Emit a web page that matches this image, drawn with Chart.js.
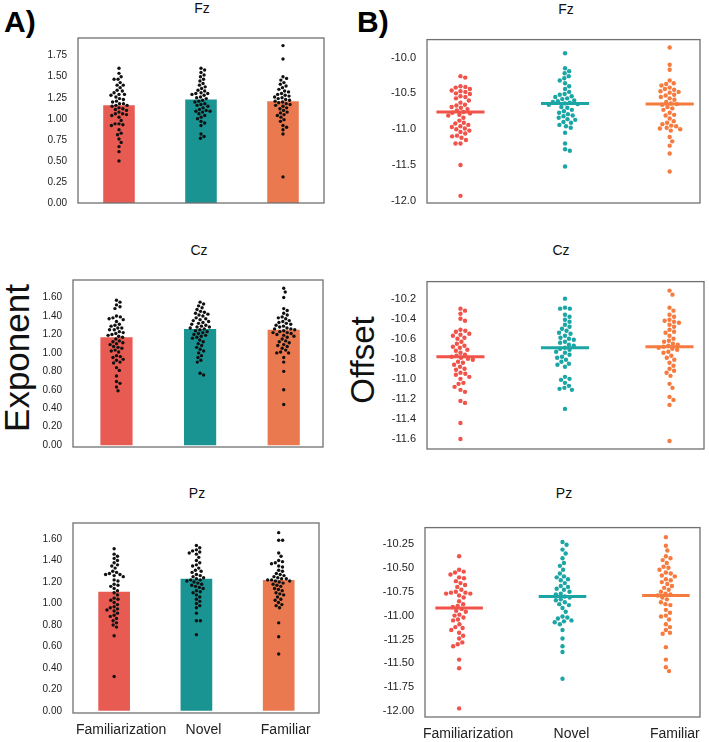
<!DOCTYPE html>
<html lang="en">
<head>
  <meta charset="UTF-8">
  <title>Exponent / Offset per electrode</title>
  <script src="https://cdn.jsdelivr.net/npm/chart.js"></script>
  <style>
    body { margin: 0; background: #fff; font-family: 'Liberation Sans', Arial, sans-serif; overflow: hidden; }
    #fig { position: relative; width: 709px; height: 742px; overflow: hidden; }
    canvas { position: absolute; }
    .txt { position: absolute; transform: translate(-50%, -50%); line-height: 1; white-space: nowrap; color: #111; }
    .title { font-size: 14px; }
    .big { font-size: 35px; transform: translate(-50%, -50%) rotate(-90deg); }
    .tag { position: absolute; font-size: 30px; font-weight: bold; line-height: 1; color: #000; }
  </style>
</head>
<body>
<div id="fig">
  <div class="tag" style="left:4px; top:7px">A)</div>
  <div class="tag" style="left:357px; top:7px">B)</div>
  <div class="txt big" style="left:16px; top:358px">Exponent</div>
  <div class="txt big" style="left:362px; top:360px; font-size:33px">Offset</div>

  <div class="txt title" style="left:202px; top:8px">Fz</div>
  <div class="txt title" style="left:566px; top:9px">Fz</div>
  <div class="txt title" style="left:199px; top:250px">Cz</div>
  <div class="txt title" style="left:561px; top:250px">Cz</div>
  <div class="txt title" style="left:197px; top:493px">Pz</div>
  <div class="txt title" style="left:564px; top:493px">Pz</div>

  <canvas id="p1" width="320" height="210" style="left:8px; top:21px"></canvas>
  <canvas id="p2" width="347" height="209" style="left:357px; top:22px"></canvas>
  <canvas id="p3" width="324" height="212" style="left:3px; top:263px"></canvas>
  <canvas id="p4" width="351" height="213" style="left:357px; top:264px"></canvas>
  <canvas id="p5" width="320" height="233" style="left:3px; top:506px"></canvas>
  <canvas id="p6" width="349" height="233" style="left:355px; top:510px"></canvas>
</div>

<script>
  const groups = ['Familiarization', 'Novel', 'Familiar'];

  // A) exponent: bar heights + individual subjects
  const fzExpBars = [1.16, 1.23, 1.21];
  const czExpBars = [1.17, 1.26, 1.25];
  const pzExpBars = [1.11, 1.23, 1.22];

  const fzExpFamiliarization = [1.60,1.54,1.50,1.47,1.47,1.43,1.40,1.40,1.37,1.34,1.33,1.31,1.29,1.29,1.28,1.26,1.24,1.23,1.21,1.20,1.18,1.18,1.16,1.16,1.15,1.13,1.12,1.11,1.10,1.08,1.06,1.06,1.05,1.04,1.02,0.98,0.94,0.94,0.93,0.92,0.87,0.83,0.81,0.76,0.72,0.67,0.61,0.50];
  const fzExpNovel = [1.60,1.58,1.55,1.52,1.50,1.47,1.45,1.42,1.40,1.38,1.36,1.34,1.33,1.31,1.30,1.30,1.29,1.28,1.26,1.25,1.24,1.22,1.21,1.20,1.18,1.17,1.16,1.15,1.13,1.11,1.10,1.09,1.09,1.08,1.06,1.04,1.02,1.00,0.97,0.95,0.92,0.82,0.79,0.77];
  const fzExpFamiliar = [1.87,1.71,1.50,1.48,1.46,1.43,1.41,1.39,1.37,1.35,1.33,1.32,1.30,1.29,1.28,1.27,1.26,1.25,1.24,1.23,1.22,1.21,1.20,1.19,1.18,1.17,1.16,1.15,1.13,1.12,1.10,1.08,1.07,1.05,1.04,1.02,0.99,0.97,0.92,0.90,0.87,0.82,0.31];

  const czExpFamiliarization = [1.57,1.55,1.52,1.50,1.48,1.40,1.39,1.38,1.37,1.36,1.34,1.31,1.30,1.29,1.27,1.27,1.25,1.25,1.23,1.22,1.21,1.20,1.19,1.18,1.17,1.15,1.13,1.12,1.11,1.10,1.09,1.07,1.06,1.05,1.03,1.02,1.01,0.97,0.96,0.95,0.93,0.92,0.90,0.89,0.84,0.81,0.75,0.69,0.67,0.63,0.59];
  const czExpNovel = [1.55,1.53,1.51,1.49,1.47,1.45,1.44,1.43,1.42,1.41,1.40,1.38,1.37,1.36,1.35,1.34,1.33,1.32,1.31,1.30,1.29,1.28,1.28,1.27,1.26,1.25,1.24,1.23,1.22,1.21,1.20,1.19,1.18,1.17,1.16,1.14,1.12,1.10,1.08,1.06,1.04,1.02,1.00,0.97,0.95,0.92,0.90,0.78,0.76];
  const czExpFamiliar = [1.70,1.66,1.60,1.48,1.46,1.43,1.41,1.39,1.38,1.37,1.35,1.34,1.33,1.32,1.31,1.30,1.29,1.28,1.27,1.26,1.26,1.25,1.24,1.23,1.22,1.22,1.21,1.20,1.19,1.18,1.17,1.15,1.13,1.12,1.11,1.09,1.08,1.07,1.05,1.03,1.01,1.00,1.00,0.95,0.90,0.80,0.60,0.44];

  const pzExpFamiliarization = [1.51,1.46,1.44,1.42,1.40,1.38,1.36,1.35,1.33,1.30,1.29,1.28,1.27,1.27,1.26,1.25,1.22,1.21,1.18,1.17,1.16,1.14,1.12,1.10,1.08,1.05,1.04,1.03,1.01,0.99,0.97,0.96,0.95,0.94,0.93,0.91,0.89,0.88,0.86,0.84,0.82,0.80,0.78,0.70,0.32];
  const pzExpNovel = [1.54,1.52,1.50,1.49,1.48,1.47,1.46,1.43,1.40,1.38,1.36,1.35,1.33,1.31,1.30,1.29,1.27,1.26,1.25,1.24,1.23,1.22,1.22,1.21,1.20,1.19,1.18,1.17,1.16,1.15,1.14,1.12,1.11,1.10,1.08,1.06,1.04,1.02,1.00,0.98,0.96,0.91,0.84,0.84,0.71];
  const pzExpFamiliar = [1.66,1.59,1.59,1.47,1.44,1.40,1.39,1.38,1.37,1.35,1.34,1.31,1.30,1.28,1.27,1.26,1.25,1.24,1.23,1.23,1.22,1.22,1.21,1.21,1.20,1.19,1.18,1.17,1.16,1.14,1.13,1.12,1.10,1.09,1.08,1.06,1.04,1.03,1.01,0.99,0.98,0.96,0.82,0.69,0.53];

  // B) offset: group medians + individual subjects
  const fzOffMedians = [-10.76, -10.64, -10.65];
  const czOffMedians = [-10.78, -10.69, -10.68];
  const pzOffMedians = [-10.92, -10.80, -10.79];

  const fzOffFamiliarization = [-10.26,-10.28,-10.40,-10.41,-10.42,-10.44,-10.46,-10.47,-10.48,-10.50,-10.51,-10.54,-10.55,-10.57,-10.60,-10.63,-10.66,-10.67,-10.69,-10.70,-10.72,-10.74,-10.76,-10.77,-10.78,-10.80,-10.81,-10.84,-10.88,-10.91,-10.92,-10.94,-10.96,-10.97,-10.99,-11.00,-11.02,-11.04,-11.06,-11.09,-11.10,-11.12,-11.15,-11.20,-11.20,-11.50,-11.93];
  const fzOffNovel = [-9.94,-10.15,-10.19,-10.22,-10.26,-10.29,-10.32,-10.36,-10.40,-10.44,-10.48,-10.51,-10.52,-10.54,-10.55,-10.57,-10.58,-10.60,-10.61,-10.62,-10.63,-10.64,-10.65,-10.66,-10.69,-10.70,-10.73,-10.75,-10.77,-10.79,-10.81,-10.82,-10.84,-10.86,-10.87,-10.90,-10.91,-10.94,-10.96,-10.98,-11.05,-11.20,-11.28,-11.30,-11.52];
  const fzOffFamiliar = [-9.86,-10.10,-10.17,-10.32,-10.36,-10.37,-10.39,-10.42,-10.44,-10.45,-10.47,-10.48,-10.49,-10.52,-10.53,-10.55,-10.57,-10.59,-10.62,-10.64,-10.65,-10.66,-10.69,-10.71,-10.73,-10.77,-10.80,-10.81,-10.85,-10.89,-10.91,-10.93,-10.95,-10.96,-10.98,-10.99,-11.00,-11.02,-11.11,-11.17,-11.23,-11.34,-11.59];

  const czOffFamiliarization = [-10.30,-10.32,-10.35,-10.40,-10.42,-10.51,-10.52,-10.53,-10.55,-10.56,-10.57,-10.59,-10.60,-10.63,-10.65,-10.67,-10.68,-10.69,-10.71,-10.72,-10.74,-10.76,-10.77,-10.78,-10.79,-10.80,-10.81,-10.83,-10.84,-10.86,-10.88,-10.90,-10.91,-10.94,-10.95,-10.96,-10.98,-11.00,-11.04,-11.05,-11.08,-11.11,-11.13,-11.22,-11.24,-11.44,-11.60];
  const czOffNovel = [-10.20,-10.29,-10.30,-10.30,-10.36,-10.38,-10.41,-10.43,-10.46,-10.48,-10.50,-10.52,-10.54,-10.55,-10.57,-10.59,-10.60,-10.61,-10.63,-10.64,-10.66,-10.67,-10.69,-10.70,-10.71,-10.73,-10.74,-10.76,-10.78,-10.79,-10.81,-10.83,-10.85,-10.86,-10.88,-10.98,-11.00,-11.01,-11.04,-11.07,-11.09,-11.10,-11.11,-11.30];
  const czOffFamiliar = [-10.12,-10.16,-10.29,-10.32,-10.36,-10.38,-10.41,-10.42,-10.43,-10.44,-10.46,-10.48,-10.51,-10.53,-10.54,-10.57,-10.60,-10.62,-10.63,-10.65,-10.66,-10.67,-10.68,-10.69,-10.70,-10.71,-10.73,-10.74,-10.77,-10.79,-10.81,-10.84,-10.87,-10.90,-10.92,-10.94,-10.97,-11.05,-11.09,-11.18,-11.21,-11.26,-11.62];

  const pzOffFamiliarization = [-10.38,-10.52,-10.54,-10.55,-10.57,-10.60,-10.61,-10.64,-10.66,-10.68,-10.70,-10.73,-10.75,-10.76,-10.76,-10.77,-10.77,-10.79,-10.81,-10.85,-10.88,-10.90,-10.91,-10.93,-10.95,-10.96,-10.99,-11.00,-11.02,-11.04,-11.05,-11.09,-11.12,-11.13,-11.15,-11.18,-11.21,-11.24,-11.28,-11.30,-11.32,-11.46,-11.55,-11.97];
  const pzOffNovel = [-10.23,-10.26,-10.31,-10.35,-10.40,-10.45,-10.48,-10.52,-10.56,-10.59,-10.60,-10.62,-10.63,-10.66,-10.69,-10.70,-10.72,-10.73,-10.75,-10.77,-10.78,-10.80,-10.81,-10.83,-10.84,-10.86,-10.88,-10.89,-10.92,-10.96,-11.01,-11.02,-11.03,-11.05,-11.06,-11.07,-11.09,-11.15,-11.24,-11.32,-11.38,-11.66];
  const pzOffFamiliar = [-10.18,-10.27,-10.32,-10.38,-10.40,-10.42,-10.45,-10.49,-10.50,-10.52,-10.55,-10.56,-10.58,-10.59,-10.62,-10.63,-10.65,-10.67,-10.69,-10.71,-10.73,-10.75,-10.77,-10.78,-10.79,-10.81,-10.83,-10.86,-10.88,-10.89,-10.94,-10.97,-11.00,-11.01,-11.04,-11.09,-11.12,-11.15,-11.18,-11.19,-11.33,-11.46,-11.54,-11.58];

  // tick labels
  const fzExpTicks = [0.00, 0.25, 0.50, 0.75, 1.00, 1.25, 1.50, 1.75];
  const czExpTicks = [0.00, 0.20, 0.40, 0.60, 0.80, 1.00, 1.20, 1.40, 1.60];
  const pzExpTicks = [0.00, 0.20, 0.40, 0.60, 0.80, 1.00, 1.20, 1.40, 1.60];
  const fzOffTicks = [-12.0, -11.5, -11.0, -10.5, -10.0];
  const czOffTicks = [-11.6, -11.4, -11.2, -11.0, -10.8, -10.6, -10.4, -10.2];
  const pzOffTicks = [-12.00, -11.75, -11.50, -11.25, -11.00, -10.75, -10.50, -10.25];

  const barColors = ['#e75b53', '#1a9393', '#ea7950'];
  const dotColors = ['#f0534a', '#1ba5a5', '#f67b3f'];
  const FONT = "'Liberation Sans', Arial, sans-serif";

  const framePlugin = {
    id: 'frame',
    afterDraw(chart) {
      const { ctx, chartArea: a } = chart;
      ctx.save();
      ctx.strokeStyle = '#707070';
      ctx.lineWidth = 1.3;
      ctx.strokeRect(a.left, a.top, a.right - a.left, a.bottom - a.top);
      ctx.restore();
    }
  };

  // beeswarm: place each point (in value order) as close to the centre as it can go
  function layoutSwarms(chart) {
    const xs = chart.scales.x, ys = chart.scales.y;
    const unit = Math.abs(xs.getPixelForValue(1) - xs.getPixelForValue(0));
    chart.data.datasets.forEach(ds => {
      if (!ds.values) return;
      const d = ds.gap;
      const placed = [];
      const pts = ds.values.map(v => ({ v, py: ys.getPixelForValue(v) })).sort((a, b) => a.py - b.py);
      ds.data = pts.map(p => {
        const near = placed.filter(q => Math.abs(q.py - p.py) < d);
        const cands = [0];
        near.forEach(q => {
          const dx = Math.sqrt(d * d - (q.py - p.py) ** 2);
          cands.push(q.dx + dx, q.dx - dx);
        });
        cands.sort((a, b) => Math.abs(a) - Math.abs(b));
        const dx = cands.find(c => near.every(q => (q.dx - c) ** 2 + (q.py - p.py) ** 2 >= d * d - 0.01));
        placed.push({ py: p.py, dx });
        return { x: ds.center + dx / unit, y: p.v };
      });
    });
    chart.update('none');
  }

  function makePanel(id, p) {
    const datasets = [];
    const isBar = !!p.bars;
    if (isBar) {
      datasets.push({
        type: 'bar', order: 2,
        data: p.bars.map((v, i) => ({ x: i, y: v })),
        backgroundColor: barColors, borderWidth: 0,
        barPercentage: 0.385, categoryPercentage: 1
      });
    }
    if (p.medians) {
      p.medians.forEach((m, i) => datasets.push({
        type: 'line', order: 0,
        data: [{ x: i - 0.23, y: m }, { x: i + 0.23, y: m }],
        borderColor: dotColors[i], borderWidth: 3, pointRadius: 0
      }));
    }
    p.groups.forEach((vals, i) => datasets.push({
      type: 'scatter', order: 1, data: [],
      values: vals, center: i, gap: isBar ? 4 : 5,
      backgroundColor: isBar ? '#111' : dotColors[i],
      pointRadius: isBar ? 1.7 : 2.2, borderWidth: 0
    }));

    const chart = new Chart(document.getElementById(id), {
      type: 'scatter',
      data: { datasets },
      options: {
        responsive: false,
        animation: false,
        events: [],
        layout: { padding: { left: 0, top: 2, right: 2, bottom: p.bottom ? 0 : 2 } },
        plugins: { legend: { display: false }, tooltip: { enabled: false } },
        scales: {
          x: {
            type: 'linear', min: p.xMin, max: p.xMax, offset: false, display: !!p.bottom,
            grid: { display: false, drawTicks: false, offset: false }, border: { display: false },
            afterBuildTicks: s => { s.ticks = groups.map((g, i) => ({ value: i })); },
            afterFit: s => { s.height = 26; },
            ticks: {
              callback: v => groups[Math.round(v)],
              font: { family: FONT, size: 14 }, color: '#222',
              padding: 9, labelOffset: p.labelOffset || 0,
              maxRotation: 0, autoSkip: false
            }
          },
          y: {
            type: 'linear', min: p.yMin, max: p.yMax,
            grid: { display: false, drawTicks: false }, border: { display: false },
            afterBuildTicks: s => { s.ticks = p.ticks.map(v => ({ value: v })); },
            afterFit: s => { s.width = 70; },
            ticks: {
              callback: v => v.toFixed(p.dec),
              font: { family: FONT, size: p.tickSize }, color: '#222',
              padding: 11, autoSkip: false
            }
          }
        }
      },
      plugins: [framePlugin]
    });
    layoutSwarms(chart);
  }

  makePanel('p1', { bars: fzExpBars, groups: [fzExpFamiliarization, fzExpNovel, fzExpFamiliar],
    ticks: fzExpTicks, dec: 2, tickSize: 10, xMin: -0.5, xMax: 2.5, yMin: 0, yMax: 1.96 });
  makePanel('p2', { medians: fzOffMedians, groups: [fzOffFamiliarization, fzOffNovel, fzOffFamiliar],
    ticks: fzOffTicks, dec: 1, tickSize: 11, xMin: -0.32, xMax: 2.29, yMin: -12.03, yMax: -9.75 });
  makePanel('p3', { bars: czExpBars, groups: [czExpFamiliarization, czExpNovel, czExpFamiliar],
    ticks: czExpTicks, dec: 2, tickSize: 10, xMin: -0.52, xMax: 2.47, yMin: -0.02, yMax: 1.79 });
  makePanel('p4', { medians: czOffMedians, groups: [czOffFamiliarization, czOffNovel, czOffFamiliar],
    ticks: czOffTicks, dec: 1, tickSize: 11, xMin: -0.32, xMax: 2.33, yMin: -11.70, yMax: -10.03 });
  makePanel('p5', { bars: pzExpBars, groups: [pzExpFamiliarization, pzExpNovel, pzExpFamiliar],
    ticks: pzExpTicks, dec: 2, tickSize: 10, xMin: -0.5, xMax: 2.49, yMin: -0.02, yMax: 1.75,
    bottom: true, labelOffset: 7 });
  makePanel('p6', { medians: pzOffMedians, groups: [pzOffFamiliarization, pzOffNovel, pzOffFamiliar],
    ticks: pzOffTicks, dec: 2, tickSize: 11, xMin: -0.33, xMax: 2.33, yMin: -12.06, yMax: -10.08,
    bottom: true, labelOffset: 9 });
</script>
</body>
</html>
